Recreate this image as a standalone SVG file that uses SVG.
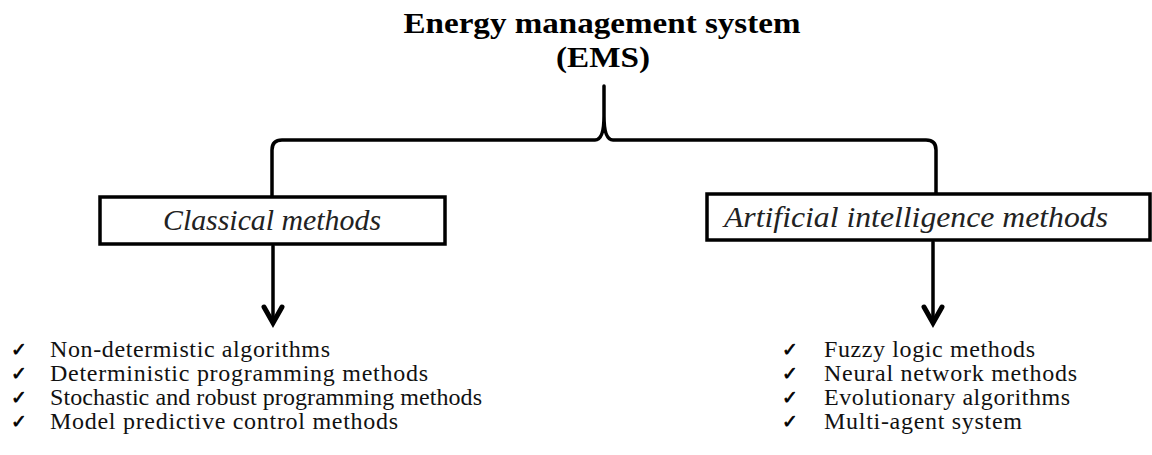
<svg xmlns="http://www.w3.org/2000/svg" width="1152" height="455" viewBox="0 0 1152 455">
<style>
.title{font-family:"Liberation Serif",serif;font-weight:bold;font-size:30px;fill:#000}
.box{fill:#fff;stroke:#000;stroke-width:3.5}
.boxt{font-family:"Liberation Serif",serif;font-style:italic;font-size:29px;fill:#222}
.item{font-family:"Liberation Serif",serif;font-size:24px;fill:#111}
.chk{font-family:"DejaVu Sans",sans-serif;font-size:19px;fill:#000;stroke:#000;stroke-width:0.7}
.line{fill:none;stroke:#000;stroke-width:3.5;stroke-linecap:round;stroke-linejoin:round}
.head{fill:none;stroke:#000;stroke-width:5;stroke-linecap:round;stroke-linejoin:miter}
</style>
<rect width="1152" height="455" fill="#fff"/>
<g id="ems">
<text class="title" x="602" y="33" text-anchor="middle" textLength="397" lengthAdjust="spacingAndGlyphs">Energy management system</text>
<text class="title" x="603" y="67" text-anchor="middle" textLength="94" lengthAdjust="spacingAndGlyphs">(EMS)</text>
</g>
<g id="connectors">
<path class="line" d="M 272 197 L 272 150 Q 272 140 282 140 L 595 140 Q 604 140 604 116 L 604 86 M 604 116 Q 604 140 613 140 L 926 140 Q 936 140 936 150 L 936 194"/>
<path class="line" d="M 273 246 L 273 322"/>
<path class="head" d="M 264 307 L 273 323 L 282 307"/>
<path class="line" d="M 933 242 L 933 322"/>
<path class="head" d="M 924 307 L 933 323 L 942 307"/>
</g>
<g id="classical">
<rect class="box" x="100" y="197" width="345" height="47"/>
<text class="boxt" x="272" y="230" text-anchor="middle" textLength="218" lengthAdjust="spacingAndGlyphs">Classical methods</text>
</g>
<g id="ai">
<rect class="box" x="707" y="194" width="443" height="46"/>
<text class="boxt" x="724" y="227" textLength="384" lengthAdjust="spacingAndGlyphs">Artificial intelligence methods</text>
</g>
<g id="classical-list">
<text class="chk" x="11" y="356">✓</text>
<text class="chk" x="11" y="380">✓</text>
<text class="chk" x="11" y="404">✓</text>
<text class="chk" x="11" y="428">✓</text>
<text class="item" x="50" y="357" textLength="280" lengthAdjust="spacing">Non-determistic algorithms</text>
<text class="item" x="50" y="381" textLength="378" lengthAdjust="spacing">Deterministic programming methods</text>
<text class="item" x="50" y="405" textLength="432" lengthAdjust="spacing">Stochastic and robust programming methods</text>
<text class="item" x="50" y="429" textLength="348" lengthAdjust="spacing">Model predictive control methods</text>
</g>
<g id="ai-list">
<text class="chk" x="782" y="356">✓</text>
<text class="chk" x="782" y="380">✓</text>
<text class="chk" x="782" y="404">✓</text>
<text class="chk" x="782" y="428">✓</text>
<text class="item" x="824" y="357" textLength="211" lengthAdjust="spacing">Fuzzy logic methods</text>
<text class="item" x="824" y="381" textLength="253" lengthAdjust="spacing">Neural network methods</text>
<text class="item" x="824" y="405" textLength="246" lengthAdjust="spacing">Evolutionary algorithms</text>
<text class="item" x="824" y="429" textLength="198" lengthAdjust="spacing">Multi-agent system</text>
</g>
</svg>
